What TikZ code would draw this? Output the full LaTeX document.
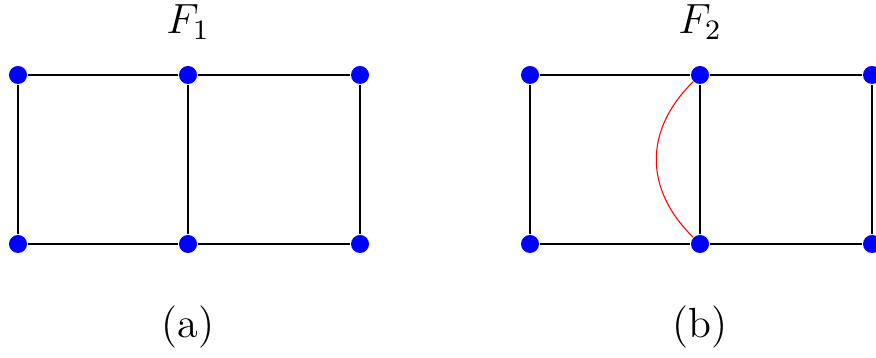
\documentclass[tikz,border=0pt]{standalone}
\usepackage[dvipsnames]{xcolor}
\usepackage{amsmath, amssymb, amsfonts}
\usepackage{tikz}

\begin{document}
\begin{tikzpicture}[x=0.01cm, y=-0.01cm,
        vtx/.style={circle, fill=blue, inner sep=0pt, minimum size=0.18cm}]
        \useasboundingbox (0,0) rectangle (876,358);
        % vertices of both graphs
        \foreach \g/\dx in {1/0, 2/512} {
            \foreach \i/\x in {1/18, 2/188, 3/360} {
                \node[vtx] (t\g\i) at (\x+\dx,75) {};
                \node[vtx] (b\g\i) at (\x+\dx,244) {};
            }
        }
        \node[font=\large] (f1) at (188,22) {$F_1$};
        \node[font=\large] (f2) at (700,22) {$F_2$};
        \node[font=\large] (la) at (188,327) {(a)};
        \node[font=\large] (lb) at (700,327) {(b)};
        % edges
        \foreach \g in {1,2} {
            \draw[line width=0.3pt] (t\g1) -- (t\g2) -- (t\g3);
            \draw[line width=0.3pt] (b\g1) -- (b\g2) -- (b\g3);
            \draw[line width=0.3pt] (t\g1) -- (b\g1);
            \draw[line width=0.3pt] (t\g3) -- (b\g3);
            \draw[line width=0.6pt] (t\g2) -- (b\g2);
        }
        % the extra edge of F_2
        \draw[red, line width=0.3pt] (t22) .. controls (644,130) and (644,189) .. (b22);
    \end{tikzpicture}
\end{document}
